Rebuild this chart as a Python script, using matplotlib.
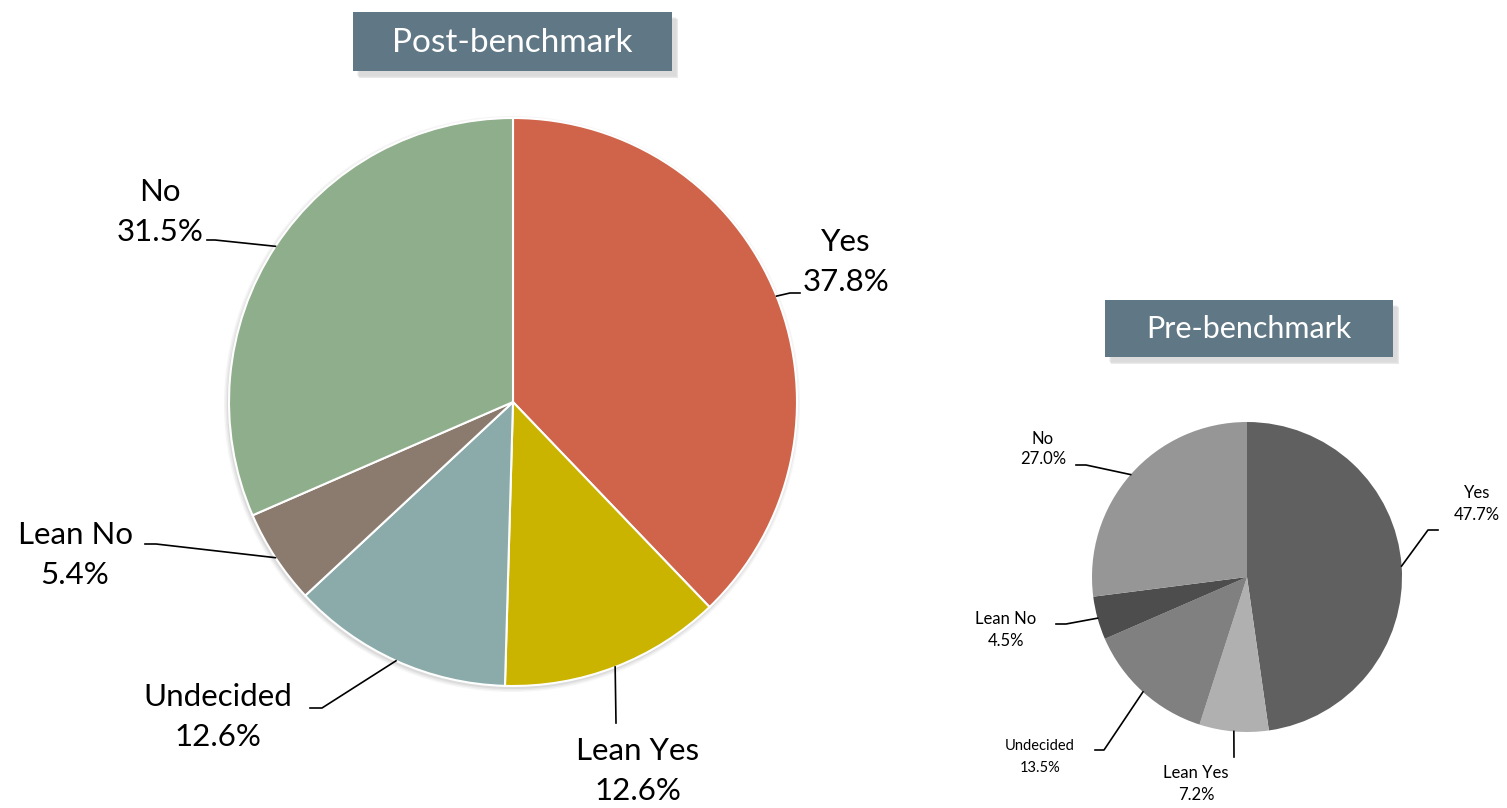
import numpy as np
import matplotlib.pyplot as plt
from matplotlib.patches import Rectangle, Circle

categories = ['Yes', 'Lean Yes', 'Undecided', 'Lean No', 'No']
post_values = [37.8, 12.6, 12.6, 5.4, 31.5]
pre_values = [47.7, 7.2, 13.5, 4.5, 27.0]
post_colors = ['#D0644A', '#CBB400', '#8BABAB', '#8B7B6F', '#8FAE8B']
pre_colors = ['#606060', '#B0B0B0', '#808080', '#4D4D4D', '#969696']

W, H = 1507, 808
plt.rcParams['font.family'] = ['Lato', 'DejaVu Sans']

fig = plt.figure(figsize=(W / 100, H / 100), dpi=100)
ax = fig.add_axes([0, 0, 1, 1])


def title_box(x0, y0, x1, y1, text, size):
    for i, a in enumerate([0.25, 0.35, 0.45]):
        ax.add_patch(Rectangle((x0 + 4 + i, y0 + 5 + i), x1 - x0, y1 - y0, color='#cfcfcf',
                               alpha=a, lw=0, zorder=1))
    ax.add_patch(Rectangle((x0, y0), x1 - x0, y1 - y0, color='#607785', lw=0, zorder=2))
    ax.text((x0 + x1) / 2, (y0 + y1) / 2 + 1, text, color='white', fontsize=size,
            ha='center', va='center', zorder=3)


def draw_pie(values, colors, cx, cy, r, edge, label_spec, gap, shadow):
    if shadow:
        for i, a in enumerate([0.15, 0.2, 0.3]):
            ax.add_patch(Circle((cx - 1, cy + 2), r + 4 - 1.5 * i, color='#bcbcbc',
                                alpha=a, lw=0, zorder=1))
    # y axis is inverted, so counterclock=True draws clockwise on screen
    wedges, _ = ax.pie(values, colors=colors, startangle=-90, counterclock=True,
                       center=(cx, cy), radius=r, frame=True,
                       wedgeprops=dict(edgecolor=edge, linewidth=1.5 if edge else 0))
    for w in wedges:
        w.set_zorder(2)
    for w, cat, val, spec in zip(wedges, categories, values, label_spec):
        mid = np.deg2rad((w.theta1 + w.theta2) / 2)
        ex, ey = cx + r * np.cos(mid), cy + r * np.sin(mid)
        (kx, ky), (hx, hy), (tx, ty), fs = spec
        ax.plot([ex, kx, hx], [ey, ky, hy], color='black', lw=1.2, zorder=3)
        ax.text(tx, ty - gap / 2, cat, ha='center', va='center', fontsize=fs, zorder=3)
        ax.text(tx, ty + gap / 2, f'{val:.1f}%', ha='center', va='center', fontsize=fs, zorder=3)


# leader elbow, leader end, label centre, font size
post_labels = [
    ((790, 293), (800, 293), (846, 262), 22.5),
    ((616, 723), (616, 723), (638, 771), 22.5),
    ((322, 708), (310, 708), (218, 717), 22.5),
    ((156, 544), (145, 544), (75, 555), 22.5),
    ((215, 240), (207, 240), (160, 212), 22.5),
]
pre_labels = [
    ((1428, 530), (1438, 530), (1477, 504), 12),
    ((1234, 757), (1234, 757), (1196, 784), 12),
    ((1104, 750), (1095, 750), (1040, 757), 10.5),
    ((1066, 624), (1056, 624), (1006, 630), 12),
    ((1086, 465), (1076, 465), (1043, 449), 12),
]

draw_pie(post_values, post_colors, 513, 402, 284, 'white', post_labels, 40, True)
draw_pie(pre_values, pre_colors, 1247, 577, 155, None, pre_labels, 21, False)

ax.set_xlim(0, W)
ax.set_ylim(H, 0)
ax.set_aspect('equal')
ax.axis('off')

title_box(353, 12, 672, 71, 'Post-benchmark', 24)
title_box(1105, 300, 1393, 357, 'Pre-benchmark', 22)

fig.savefig('out.png', dpi=100)
